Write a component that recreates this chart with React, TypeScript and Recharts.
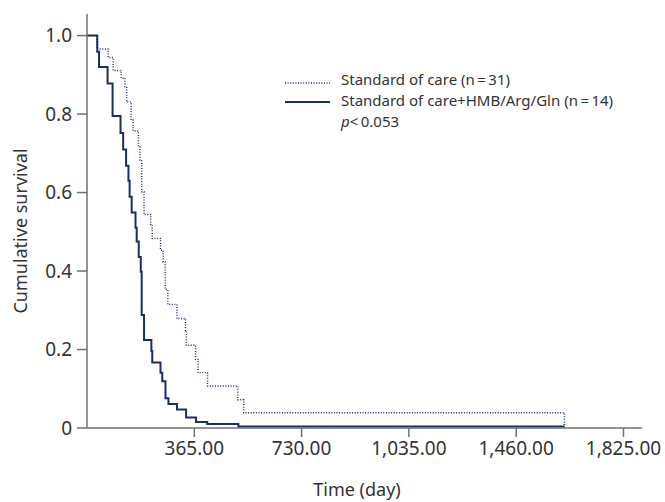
import React from 'react';
import { LineChart, Line, XAxis, YAxis } from 'recharts';

// Kaplan-Meier steps (day, cumulative survival)
const careDays = [0, 33, 72, 89, 116, 129, 135, 150, 157, 175, 180, 186, 194, 217, 222, 250, 259, 266, 275, 306, 335, 338, 369, 378, 410, 513, 533, 1624];
const careSurv = [1, 0.966, 0.944, 0.911, 0.892, 0.87, 0.831, 0.785, 0.757, 0.717, 0.683, 0.602, 0.544, 0.515, 0.483, 0.453, 0.423, 0.353, 0.315, 0.279, 0.248, 0.211, 0.175, 0.141, 0.107, 0.072, 0.039, 0];

const hmbDays = [0, 35, 41, 70, 87, 114, 123, 133, 141, 145, 152, 165, 169, 176, 183, 186, 194, 219, 222, 250, 256, 267, 277, 306, 337, 371, 409, 515, 1624];
const hmbSurv = [1, 0.959, 0.92, 0.878, 0.795, 0.752, 0.71, 0.668, 0.63, 0.589, 0.549, 0.51, 0.475, 0.436, 0.398, 0.288, 0.224, 0.196, 0.167, 0.141, 0.119, 0.076, 0.061, 0.047, 0.027, 0.015, 0.01, 0.004, 0.004];

const xTicks = [365, 730, 1095, 1460, 1825];
const xTickLabels = ['365.00', '730.00', '1,035.00', '1,460.00', '1,825.00'];
const yTicks = [0, 0.2, 0.4, 0.6, 0.8, 1.0];
const yTickLabels = ['0', '0.2', '0.4', '0.6', '0.8', '1.0'];

const legendLabels = ['Standard of care (n\u2009=\u200931)', 'Standard of care+HMB/Arg/Gln (n\u2009=\u200914)'];
const pValue = '<\u20090.053';

const careData = careDays.map((d, i) => ({ day: d, s: careSurv[i] }));
const hmbData = hmbDays.map((d, i) => ({ day: d, s: hmbSurv[i] }));

const NAVY = '#1a2c6e';
const AXIS = '#707070';
const FONT = '"Noto Sans", sans-serif';

// drawn outside the chart so it takes no room from the plot
const LegendBox = () => (
  <div
    style={{
      position: 'absolute',
      left: 285,
      top: 69,
      fontFamily: FONT,
      fontSize: 15,
      color: '#333',
      lineHeight: '21px',
      whiteSpace: 'nowrap',
    }}
  >
    <div style={{ display: 'flex', alignItems: 'center' }}>
      <svg width={56} height={21}>
        <line x1={0} y1={14} x2={45} y2={14} stroke={NAVY} strokeWidth={1.4} strokeDasharray="1 1.6" />
      </svg>
      <span>{legendLabels[0]}</span>
    </div>
    <div style={{ display: 'flex', alignItems: 'center' }}>
      <svg width={56} height={21}>
        <line x1={0} y1={12} x2={45} y2={12} stroke={NAVY} strokeWidth={2} />
      </svg>
      <span>{legendLabels[1]}</span>
    </div>
    <div style={{ paddingLeft: 56 }}>
      <i>p</i>
      {pValue}
    </div>
  </div>
);

export default function App() {
  return (
    <div style={{ position: 'absolute', left: 0, top: 0, width: 665, height: 502, background: '#fff' }}>
      <LineChart width={665} height={502} margin={{ top: 14, right: 23, left: 0, bottom: 4 }}>
        <XAxis
          type="number"
          dataKey="day"
          domain={[0, 1888]}
          ticks={xTicks}
          tickFormatter={(v: number) => xTickLabels[xTicks.indexOf(v)]}
          height={70}
          stroke={AXIS}
          strokeWidth={1.5}
          tickSize={9}
          tickMargin={5}
          tick={{ fill: '#333', fontSize: 19, fontFamily: FONT }}
          allowDataOverflow
          label={{
            content: () => (
              <text x={357} y={489} textAnchor="middle" dominantBaseline="central" fill="#333" fontSize={18} fontFamily={FONT}>
                Time (day)
              </text>
            ),
          }}
        />
        <YAxis
          type="number"
          dataKey="s"
          domain={[0, 1.055]}
          ticks={yTicks}
          tickFormatter={(v: number) => yTickLabels[yTicks.indexOf(v)]}
          width={87}
          stroke={AXIS}
          strokeWidth={1.5}
          tickSize={10}
          tickMargin={5}
          tick={{ fill: '#333', fontSize: 19, fontFamily: FONT }}
          allowDataOverflow
          label={{
            content: () => (
              <text x={20} y={231} transform="rotate(-90 20 231)" textAnchor="middle" dominantBaseline="central" fill="#333" fontSize={18} fontFamily={FONT}>
                Cumulative survival
              </text>
            ),
          }}
        />
        <Line
          data={careData}
          dataKey="s"
          type="stepAfter"
          stroke={NAVY}
          strokeWidth={1.4}
          strokeDasharray="1 1.6"
          dot={false}
          isAnimationActive={false}
          name={legendLabels[0]}
        />
        <Line
          data={hmbData}
          dataKey="s"
          type="stepAfter"
          stroke={NAVY}
          strokeWidth={2}
          dot={false}
          isAnimationActive={false}
          name={legendLabels[1]}
        />
      </LineChart>
      <LegendBox />
    </div>
  );
}
